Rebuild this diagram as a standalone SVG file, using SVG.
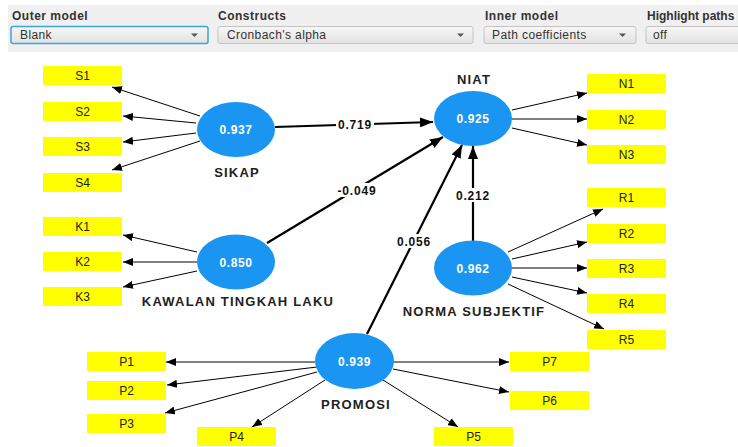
<svg xmlns="http://www.w3.org/2000/svg" width="738" height="447" viewBox="0 0 738 447">
<defs>
<linearGradient id="btn" x1="0" y1="0" x2="0" y2="1"><stop offset="0" stop-color="#f7f7f7"/><stop offset="1" stop-color="#e2e2e2"/></linearGradient>
<marker id="ao" markerWidth="10" markerHeight="8" refX="10" refY="4" orient="auto" markerUnits="userSpaceOnUse"><path d="M0,0 L10,4 L0,8 Z" fill="#000"/></marker>
<marker id="ai" markerWidth="13" markerHeight="10" refX="13" refY="5" orient="auto" markerUnits="userSpaceOnUse"><path d="M0,0 L13,5 L0,10 Z" fill="#000"/></marker>
</defs>
<style>
.bar{fill:#f0f0f0}
.lbl{font-family:"Liberation Sans",Arial,sans-serif;font-weight:bold;font-size:12px;fill:#333;letter-spacing:0.5px}
.dd{fill:url(#btn);stroke:#c4c4c4;stroke-width:1}
.ddf{fill:url(#btn);stroke:#3aa6dd;stroke-width:1.5}
.ddt{font-family:"Liberation Sans",Arial,sans-serif;font-size:12px;fill:#333;letter-spacing:0.4px}
.tri{fill:#555}
.ind{fill:#ffff00}
.it{font-family:"Liberation Sans",Arial,sans-serif;font-size:12px;fill:#222;text-anchor:middle}
.lv{fill:#1b95f2}
.vt{font-family:"Liberation Sans",Arial,sans-serif;font-weight:bold;font-size:12px;fill:#fff;text-anchor:middle;letter-spacing:0.6px}
.nm{font-family:"Liberation Sans",Arial,sans-serif;font-weight:bold;font-size:13px;fill:#222;text-anchor:middle;letter-spacing:1.2px}
.ol{stroke:#000;stroke-width:1;fill:none;marker-end:url(#ao)}
.il{stroke:#000;stroke-width:2.2;fill:none;marker-end:url(#ai)}
.pl{font-family:"Liberation Sans",Arial,sans-serif;font-weight:bold;font-size:12px;fill:#111;text-anchor:middle;letter-spacing:0.8px}
.pb{fill:#fff}
</style>
<rect width="738" height="447" fill="#fff"/>
<g id="toolbar">
<rect class="bar" x="8" y="5" width="730" height="47"/>
<text class="lbl" x="12" y="20">Outer model</text>
<rect class="ddf" x="11" y="26.5" width="197" height="17" rx="2"/>
<text class="ddt" x="20" y="39">Blank</text>
<path class="tri" d="M191,33.5 h7 l-3.5,3.5 z"/>
<text class="lbl" x="218" y="20">Constructs</text>
<rect class="dd" x="218" y="26.5" width="255" height="17" rx="2"/>
<text class="ddt" x="227" y="39">Cronbach's alpha</text>
<path class="tri" d="M457,33.5 h7 l-3.5,3.5 z"/>
<text class="lbl" x="485" y="20">Inner model</text>
<rect class="dd" x="484" y="26.5" width="152" height="17" rx="2"/>
<text class="ddt" x="492" y="39">Path coefficients</text>
<path class="tri" d="M619,33.5 h7 l-3.5,3.5 z"/>
<text class="lbl" x="647" y="20" style="letter-spacing:0">Highlight paths</text>
<rect class="dd" x="646" y="26.5" width="100" height="17" rx="2"/>
<text class="ddt" x="653" y="39">off</text>
</g>
<g id="connectors">
<line class="ol" x1="200" y1="116" x2="112" y2="87"/>
<line class="ol" x1="196" y1="123" x2="123" y2="116"/>
<line class="ol" x1="196" y1="133" x2="123" y2="142"/>
<line class="ol" x1="200" y1="141" x2="112" y2="170"/>
<line class="ol" x1="197" y1="252" x2="123" y2="235"/>
<line class="ol" x1="197" y1="262" x2="123" y2="262"/>
<line class="ol" x1="197" y1="271" x2="123" y2="287"/>
<line class="ol" x1="512" y1="110" x2="587" y2="93"/>
<line class="ol" x1="512" y1="119" x2="587" y2="119"/>
<line class="ol" x1="512" y1="128" x2="587" y2="145"/>
<line class="ol" x1="508" y1="252" x2="603" y2="209"/>
<line class="ol" x1="512" y1="259" x2="587" y2="242"/>
<line class="ol" x1="512" y1="268" x2="587" y2="268"/>
<line class="ol" x1="512" y1="277" x2="587" y2="293"/>
<line class="ol" x1="508" y1="284" x2="604" y2="329"/>
<line class="ol" x1="315" y1="362" x2="166" y2="362"/>
<line class="ol" x1="317" y1="367" x2="167" y2="385"/>
<line class="ol" x1="317" y1="372" x2="165" y2="413"/>
<line class="ol" x1="325" y1="380" x2="252" y2="427"/>
<line class="ol" x1="383" y1="380" x2="458" y2="427"/>
<line class="ol" x1="393" y1="369" x2="509" y2="392"/>
<line class="ol" x1="393" y1="362" x2="509" y2="362"/>
<line class="il" x1="275" y1="127" x2="433" y2="122"/>
<line class="il" x1="267" y1="243" x2="443" y2="137"/>
<line class="il" x1="367" y1="334" x2="462" y2="145"/>
<line class="il" x1="473" y1="241" x2="473" y2="146"/>
<rect class="pb" x="336" y="117" width="38" height="14"/>
<text class="pl" x="355" y="128.5">0.719</text>
<rect class="pb" x="334" y="183" width="46" height="14"/>
<text class="pl" x="357" y="194.5">-0.049</text>
<rect class="pb" x="395" y="234" width="38" height="14"/>
<text class="pl" x="414" y="245.5">0.056</text>
<rect class="pb" x="454" y="188" width="38" height="14"/>
<text class="pl" x="473" y="199.5">0.212</text>
</g>
<g id="S1"><rect class="ind" x="43" y="66" width="79" height="19"/><text class="it" x="82.5" y="80">S1</text></g>
<g id="S2"><rect class="ind" x="43" y="102" width="79" height="19"/><text class="it" x="82.5" y="116">S2</text></g>
<g id="S3"><rect class="ind" x="43" y="137" width="79" height="19"/><text class="it" x="82.5" y="151">S3</text></g>
<g id="S4"><rect class="ind" x="43" y="173" width="79" height="19"/><text class="it" x="82.5" y="187">S4</text></g>
<g id="K1"><rect class="ind" x="43" y="217" width="79" height="19"/><text class="it" x="82.5" y="231">K1</text></g>
<g id="K2"><rect class="ind" x="43" y="252" width="79" height="19"/><text class="it" x="82.5" y="266">K2</text></g>
<g id="K3"><rect class="ind" x="43" y="287" width="79" height="19"/><text class="it" x="82.5" y="301">K3</text></g>
<g id="N1"><rect class="ind" x="587" y="74" width="79" height="19"/><text class="it" x="626.5" y="88">N1</text></g>
<g id="N2"><rect class="ind" x="587" y="110" width="79" height="19"/><text class="it" x="626.5" y="124">N2</text></g>
<g id="N3"><rect class="ind" x="587" y="145" width="79" height="19"/><text class="it" x="626.5" y="159">N3</text></g>
<g id="R1"><rect class="ind" x="587" y="188" width="79" height="19"/><text class="it" x="626.5" y="202">R1</text></g>
<g id="R2"><rect class="ind" x="587" y="224" width="79" height="19"/><text class="it" x="626.5" y="238">R2</text></g>
<g id="R3"><rect class="ind" x="587" y="259" width="79" height="19"/><text class="it" x="626.5" y="273">R3</text></g>
<g id="R4"><rect class="ind" x="587" y="294" width="79" height="19"/><text class="it" x="626.5" y="308">R4</text></g>
<g id="R5"><rect class="ind" x="587" y="330" width="79" height="19"/><text class="it" x="626.5" y="344">R5</text></g>
<g id="P1"><rect class="ind" x="87" y="352" width="79" height="19"/><text class="it" x="126.5" y="366">P1</text></g>
<g id="P2"><rect class="ind" x="87" y="381" width="79" height="19"/><text class="it" x="126.5" y="395">P2</text></g>
<g id="P3"><rect class="ind" x="87" y="414" width="79" height="19"/><text class="it" x="126.5" y="428">P3</text></g>
<g id="P4"><rect class="ind" x="197" y="427" width="79" height="19"/><text class="it" x="236.5" y="441">P4</text></g>
<g id="P5"><rect class="ind" x="434" y="427" width="79" height="19"/><text class="it" x="473.5" y="441">P5</text></g>
<g id="P6"><rect class="ind" x="510" y="391" width="79" height="19"/><text class="it" x="549.5" y="405">P6</text></g>
<g id="P7"><rect class="ind" x="510" y="352" width="79" height="19"/><text class="it" x="549.5" y="366">P7</text></g>
<g id="SIKAP"><ellipse class="lv" cx="236" cy="129.5" rx="39" ry="27.5"/><text class="vt" x="236" y="134">0.937</text><text class="nm" x="237" y="177">SIKAP</text></g>
<g id="KAWALAN"><ellipse class="lv" cx="236" cy="262" rx="39" ry="27.5"/><text class="vt" x="236" y="266.5">0.850</text><text class="nm" x="238" y="306">KAWALAN TINGKAH LAKU</text></g>
<g id="NIAT"><ellipse class="lv" cx="473" cy="118.5" rx="39" ry="27.5"/><text class="vt" x="473" y="123">0.925</text><text class="nm" x="474" y="84">NIAT</text></g>
<g id="NORMA"><ellipse class="lv" cx="473" cy="268" rx="39" ry="27.5"/><text class="vt" x="473" y="272.5">0.962</text><text class="nm" x="474" y="316">NORMA SUBJEKTIF</text></g>
<g id="PROMOSI"><ellipse class="lv" cx="354.5" cy="361" rx="39.5" ry="28"/><text class="vt" x="354.5" y="365.5">0.939</text><text class="nm" x="356" y="409">PROMOSI</text></g>
</svg>
